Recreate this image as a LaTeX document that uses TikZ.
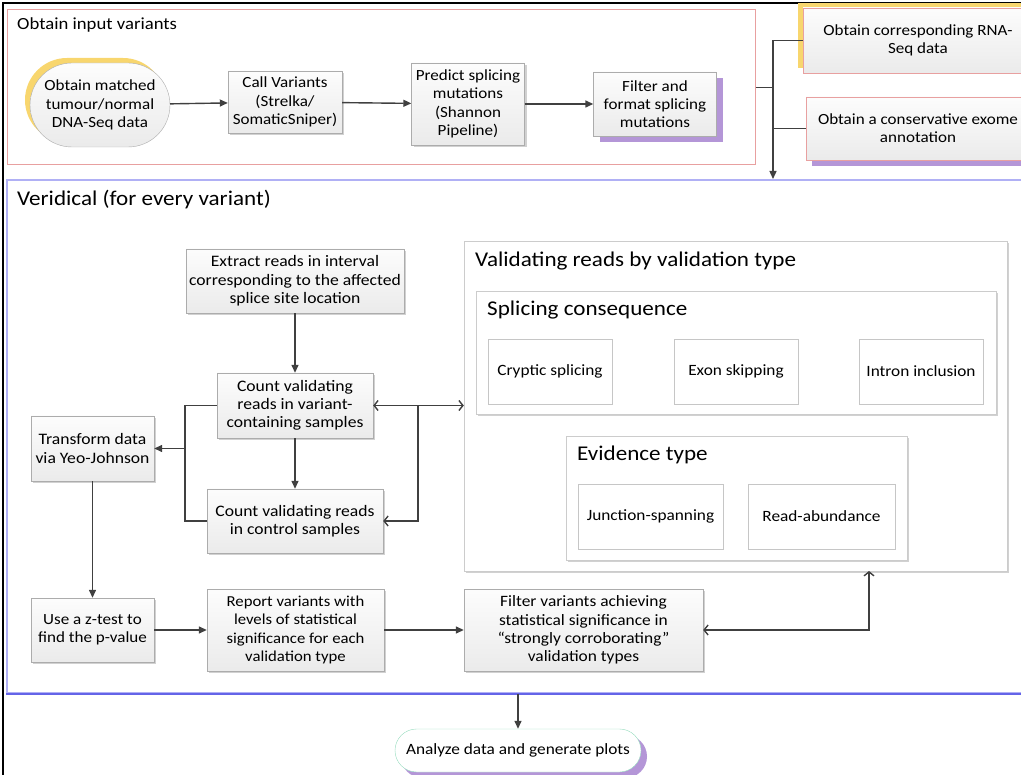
\documentclass[tikz,border=0pt]{standalone}
\usepackage{fontspec}
\setmainfont{Carlito}[FakeStretch=1.1]
\usetikzlibrary{positioning,arrows.meta,shapes.misc,shadows}
\definecolor{pinkline}{RGB}{232,160,160}
\definecolor{blueline}{RGB}{176,176,245}
\definecolor{bluedark}{RGB}{100,100,232}
\definecolor{yshade}{RGB}{248,214,110}
\definecolor{pshade}{RGB}{180,150,215}
\definecolor{greenline}{RGB}{150,220,190}
\definecolor{connc}{RGB}{64,64,64}
\newcommand\boxfont[1]{\fontsize{#1}{18.3}\selectfont}

\tikzset{
  box/.style={rectangle, draw=gray!65, top color=gray!2, bottom color=gray!16,
    align=center, inner sep=0pt, font=\boxfont{16}},
  gshadow/.style={general shadow={fill=black, opacity=0.18, shadow xshift=2pt, shadow yshift=-2pt}},
  yshadow/.style={general shadow={fill=yshade, shadow xshift=-5pt, shadow yshift=5pt}},
  pshadow/.style={general shadow={fill=pshade, shadow xshift=6pt, shadow yshift=-6pt}},
  subbox/.style={rectangle, draw=gray!45, fill=white, align=center, inner sep=0pt,
    font=\boxfont{15.7}},
  grp/.style={rectangle, inner sep=0pt},
  grptitle/.style={anchor=west, inner sep=0pt, font=\boxfont{21}},
  conn/.style={draw=connc, line width=1.4pt},
  arr/.style={conn, -{Triangle[length=8pt,width=7pt]}},
  barb/.style={conn, -{Straight Barb[length=4pt,width=10pt]}},
  barbs/.style={conn, {Straight Barb[length=4pt,width=10pt]}-{Straight Barb[length=4pt,width=10pt]}},
}

\begin{document}
\begin{tikzpicture}[x=1pt,y=-1pt]
\useasboundingbox (0,0) rectangle (1021,775);
\clip (0,0) rectangle (1021,775);

% outer frame
\draw[line width=2pt] (3,3) rectangle (1040,790);

% obtain input variants
\node[grp, draw=pinkline, line width=1pt, minimum width=748pt, minimum height=155pt] (inputs) at (381,87.5) {};
\node[grptitle, font=\boxfont{17}] (inputstitle) at (17,25) {Obtain input variants};

\node[box, font=\boxfont{15.5}, rounded rectangle, minimum width=140pt, minimum height=84pt, yshadow] (dna) at (100,105) {Obtain matched\\tumour/normal\\DNA-Seq data};
\node[box, font=\boxfont{15.5}, gshadow, minimum width=114pt, minimum height=62pt] (call) at (285,102) {Call Variants\\(Strelka/\\SomaticSniper)};
\node[box, font=\boxfont{15.5}, gshadow, minimum width=113pt, minimum height=82pt] (predict) at (468,104) {Predict splicing\\mutations\\(Shannon\\Pipeline)};
\node[box, font=\boxfont{15.5}, pshadow, minimum width=123pt, minimum height=64pt] (filterfmt) at (655,104) {Filter and\\format splicing\\mutations};

\draw[arr] (dna) -- (call);
\draw[arr] (call) -- (predict);
\draw[arr] (predict) -- (filterfmt);

% side inputs
\node[box, font=\boxfont{15.5}, draw=pinkline, yshadow, minimum width=230pt, minimum height=65pt] (rnaseq) at (918,40.5) {Obtain corresponding RNA-\\Seq data};
\node[box, font=\boxfont{15.5}, draw=pinkline, pshadow, minimum width=224pt, minimum height=63pt] (exome) at (918,128.5) {Obtain a conservative exome\\annotation};

\coordinate (bustop) at (773,40.5);
\coordinate (busend) at (773,179);
\draw[conn] (rnaseq.west) -- (bustop);
\draw[conn] (exome.west) -- (exome.west -| bustop);
\draw[conn] (inputs.east) -- (inputs.east -| bustop);
\draw[arr] (bustop) -- (busend);

% veridical
\node[grp, draw=blueline, line width=1.5pt, minimum width=1028pt, minimum height=513pt] (veridical) at (521,436.5) {};
\draw[bluedark, line width=2.5pt] (veridical.south west) -- (veridical.south east);
\node[grptitle] (veridtitle) at (17,200) {Veridical (for every variant)};

\node[box, gshadow, minimum width=218pt, minimum height=64pt] (extract) at (295,281) {Extract reads in interval\\corresponding to the affected\\splice site location};
\node[box, gshadow, minimum width=156pt, minimum height=65pt] (cntvar) at (295,405.5) {Count validating\\reads in variant-\\containing samples};
\node[box, gshadow, minimum width=176pt, minimum height=64pt] (cntctl) at (295,521) {Count validating reads\\in control samples};
\node[box, gshadow, minimum width=123pt, minimum height=65pt] (transform) at (92.5,448.5) {Transform data\\via Yeo-Johnson};

% validation types
\node[grp, draw=gray!40, fill=white, gshadow, minimum width=543pt, minimum height=330pt] (valbox) at (735.5,406) {};
\node[grptitle] (valtitle) at (475,261) {Validating reads by validation type};
\node[grp, draw=gray!40, fill=white, gshadow, minimum width=520pt, minimum height=123pt] (splicebox) at (736,352.5) {};
\node[grptitle] (splicetitle) at (487,310) {Splicing consequence};
\node[subbox, minimum width=124pt, minimum height=65pt] (cryptic) at (550,371.5) {Cryptic splicing};
\node[subbox, minimum width=124pt, minimum height=65pt] (exon) at (736,371.5) {Exon skipping};
\node[subbox, minimum width=124pt, minimum height=65pt] (intron) at (921,371.5) {Intron inclusion};
\node[grp, draw=gray!40, fill=white, gshadow, minimum width=341pt, minimum height=124pt] (evidbox) at (736.5,498) {};
\node[grptitle] (evidtitle) at (577,455) {Evidence type};
\node[subbox, minimum width=145pt, minimum height=65pt] (junction) at (650.5,516.5) {Junction-spanning};
\node[subbox, minimum width=147pt, minimum height=65pt] (readab) at (821.5,516.5) {Read-abundance};

% counting
\draw[arr] (extract) -- (cntvar);
\draw[arr] (cntvar) -- (cntctl);
\coordinate (leftbus) at (185,448.5);
\coordinate (rightbus) at (418,405.5);
\draw[conn] (cntvar.west) -- (cntvar.west -| leftbus) |- (cntctl.west);
\draw[arr] (leftbus) -- (transform.east);
\draw[barbs] (cntvar.east) -- (cntvar.east -| valbox.west);
\draw[barb] (rightbus) |- (cntctl.east);

% testing
\node[box, font=\boxfont{15.5}, gshadow, minimum width=123pt, minimum height=64pt] (ztest) at (92.5,630) {Use a z-test to\\find the p-value};
\node[box, font=\boxfont{15.2}, gshadow, minimum width=177pt, minimum height=82pt] (report) at (295.5,630) {Report variants with\\levels of statistical\\significance for each\\validation type};
\node[box, font=\boxfont{15.8}, gshadow, minimum width=239pt, minimum height=82pt] (filtvar) at (583.5,630) {Filter variants achieving\\statistical significance in\\“strongly corroborating”\\validation types};

\draw[arr] (transform) -- (ztest);
\draw[arr] (ztest) -- (report);
\draw[arr] (report) -- (filtvar);
\coordinate (upbus) at (869,571);
\draw[barbs] (filtvar.east) -| (upbus);

% output
\node[box, font=\boxfont{15.7}, rounded rectangle, draw=greenline, top color=white, bottom color=white, pshadow, minimum width=246pt, minimum height=43pt] (analyze) at (518,750.5) {Analyze data and generate plots};
\draw[arr] (analyze.north |- veridical.south) -- (analyze.north);
\end{tikzpicture}
\end{document}
